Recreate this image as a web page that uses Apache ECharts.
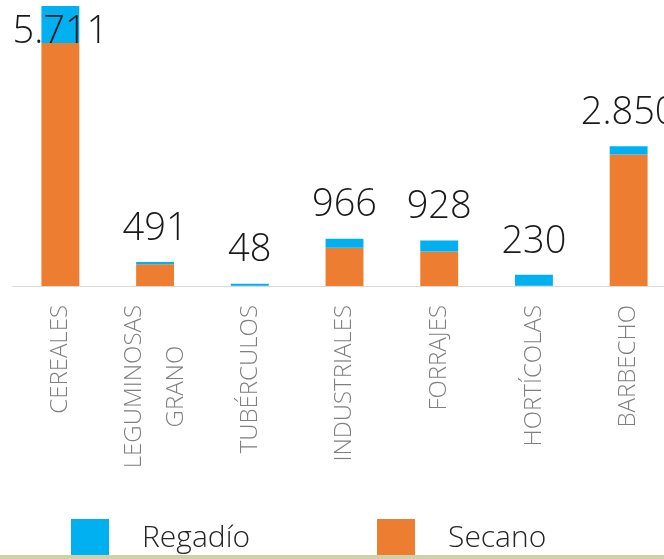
<!DOCTYPE html>
<html>
<head>
<meta charset="utf-8">
<script src="https://cdn.jsdelivr.net/npm/echarts@6/dist/echarts.min.js"></script>
<style>
  html, body { margin: 0; padding: 0; background: #fff; }
  #chart { width: 664px; height: 559px; }
</style>
</head>
<body>
<div id="chart"></div>
<script>
// superficie por cultivo (ha)
const categories = ['CEREALES', 'LEGUMINOSAS\nGRANO', 'TUBÉRCULOS', 'INDUSTRIALES', 'FORRAJES', 'HORTÍCOLAS', 'BARBECHO'];
const secano = [4956, 446, 5, 781, 703, 4, 2680];
const regadio = [755, 45, 43, 185, 225, 226, 170];

const totals = categories.map((c, i) => secano[i] + regadio[i]);
const maxTotal = Math.max(...totals);

const fontMain = "'Open Sans', 'Liberation Sans', sans-serif";

// separador de miles con punto
const fmt = v => String(v).replace(/\B(?=(\d{3})+(?!\d))/g, '.');

const chart = echarts.init(document.getElementById('chart'), null, { renderer: 'canvas' });

const option = {
    animation: false,
    backgroundColor: '#fff',
    grid: {
        left: 13,
        width: 663,
        top: 6,
        bottom: 273,
        // la última columna se sale por la derecha, como en el original
        outerBoundsMode: 'none'
    },
    legend: {
        data: ['Regadío', 'Secano'],
        left: 71,
        top: 519,
        padding: 0,
        icon: 'rect',
        itemWidth: 38,
        itemHeight: 38,
        itemGap: 127,
        textStyle: {
            fontFamily: fontMain,
            fontWeight: 300,
            fontSize: 30,
            color: '#262626',
            padding: [0, 0, 0, 28]
        }
    },
    xAxis: {
        type: 'category',
        data: categories,
        axisLine: { lineStyle: { color: '#d9d9d9', width: 1 } },
        axisTick: { show: false },
        axisLabel: {
            interval: 0,
            rotate: 90,
            margin: 19,
            color: '#7f7f7f',
            fontFamily: fontMain,
            fontWeight: 300,
            fontSize: 24,
            lineHeight: 42,
            formatter: v => v.split('\n').map(s => '{a|' + s + '}').join('\n'),
            rich: {
                a: {
                    align: 'center',
                    fontFamily: fontMain,
                    fontWeight: 300,
                    fontSize: 24,
                    lineHeight: 42,
                    color: '#7f7f7f'
                }
            }
        }
    },
    yAxis: {
        type: 'value',
        min: 0,
        max: maxTotal,
        show: false,
        splitLine: { show: false }
    },
    series: [
        {
            name: 'Secano',
            type: 'bar',
            stack: 'total',
            barWidth: '40%',
            data: secano,
            itemStyle: { color: '#ed7d31' }
        },
        {
            name: 'Regadío',
            type: 'bar',
            stack: 'total',
            barWidth: '40%',
            data: regadio.map((v, i) => {
                // la etiqueta de la barra más alta no cabe encima
                if (totals[i] === maxTotal) {
                    return { value: v, label: { position: 'insideTop', distance: 7 } };
                }
                return v;
            }),
            itemStyle: { color: '#00b0f0' },
            label: {
                show: true,
                position: 'top',
                distance: 14,
                color: '#1a1a1a',
                fontFamily: fontMain,
                fontWeight: 300,
                fontSize: 38,
                formatter: p => fmt(totals[p.dataIndex])
            }
        }
    ],
    graphic: [
        {
            type: 'rect',
            left: 0,
            bottom: 0,
            z: 100,
            shape: { width: 664, height: 4 },
            style: { fill: '#cfd2a8' }
        }
    ]
};

chart.setOption(option);
</script>
</body>
</html>
